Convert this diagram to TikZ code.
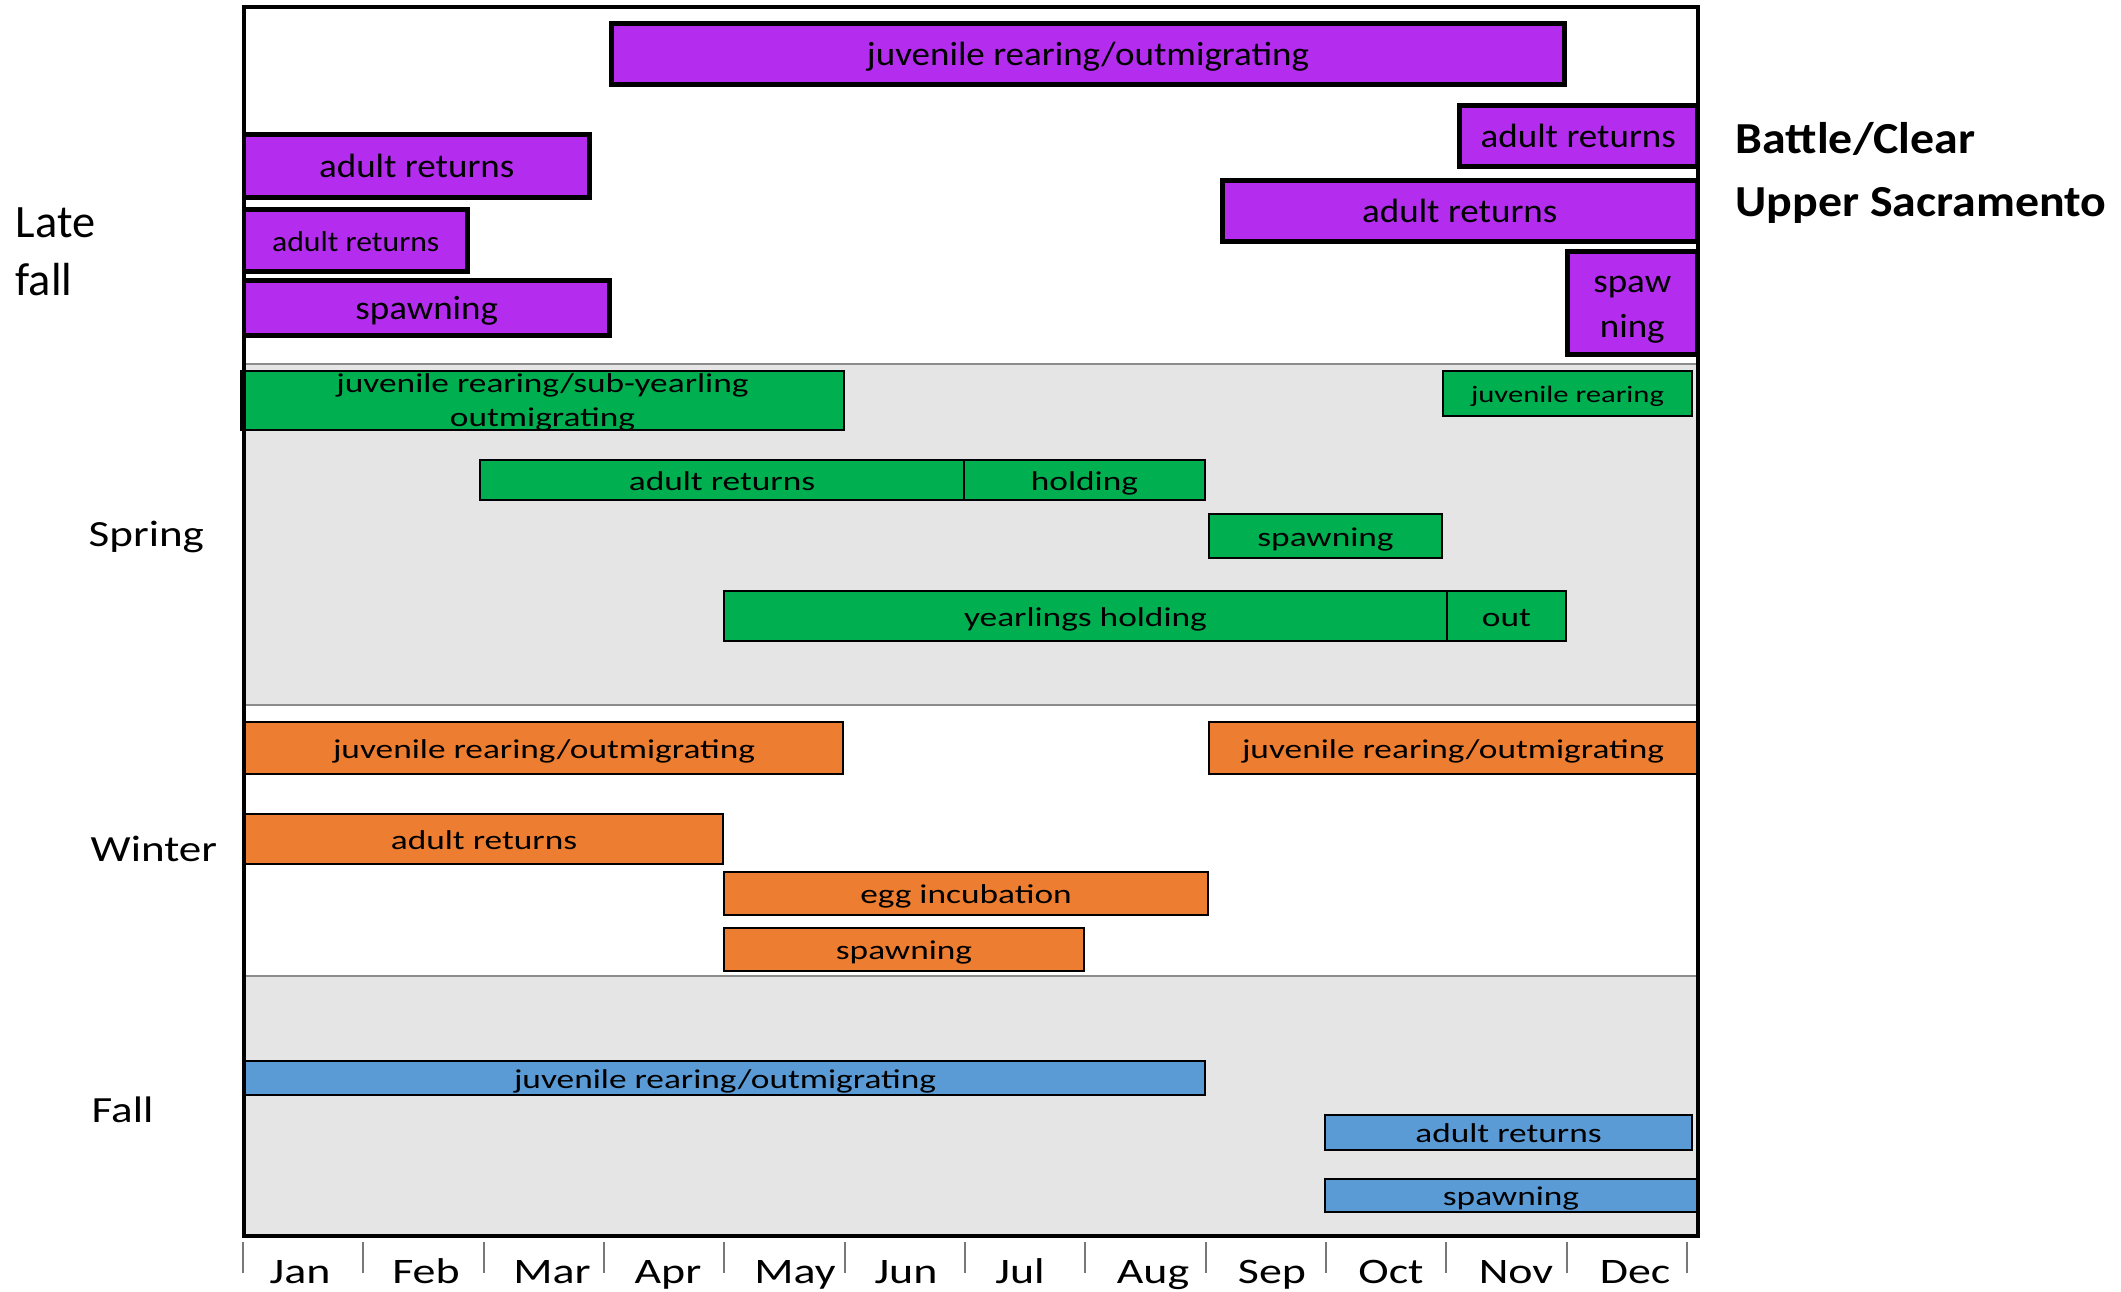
\documentclass[tikz,border=0pt]{standalone}
\usepackage{fontspec}
\setmainfont{Carlito}
% widened cuts of the same face for the different label groups
\newfontfamily\barfont[FakeStretch=1.3]{Carlito}
\newfontfamily\lffont[FakeStretch=1.1]{Carlito}
\newfontfamily\monthfont[FakeStretch=1.28]{Carlito}
\newfontfamily\runfont[FakeStretch=1.22]{Carlito}
\newfontfamily\riverfont[FakeStretch=1.08]{Carlito}

\definecolor{lfpurple}{RGB}{180,45,239}
\definecolor{spgreen}{RGB}{0,176,80}
\definecolor{wiorange}{RGB}{237,125,49}
\definecolor{fablue}{RGB}{91,155,213}
\definecolor{bandgray}{RGB}{229,229,229}
\definecolor{bandline}{RGB}{140,140,140}
\definecolor{tickgray}{RGB}{120,120,120}

% #1 style, #2 name, #3 x1, #4 y1, #5 x2, #6 y2, #7 text
\newcommand\ganttbar[7]{%
  \pgfmathsetmacro\gbw{(#5-#3)*0.01}%
  \pgfmathsetmacro\gbh{(#6-#4)*0.01}%
  \node[#1, minimum width=\gbw cm, minimum height=\gbh cm] (#2) at ({(#3+#5)/2},{(#4+#6)/2}) {#7};%
}

\begin{document}
\begin{tikzpicture}[x=0.01cm, y=-0.01cm,
  bar/.style={rectangle, draw=black, line width=0.6pt, inner sep=0pt, outer sep=0pt},
  lfbar/.style={bar, fill=lfpurple, line width=1.35pt,
    font=\lffont\fontsize{9.57}{11}\selectfont, text height=6.8pt, text depth=0pt},
  lfsmall/.style={lfbar, font=\lffont\fontsize{8.2}{10}\selectfont, text height=6.5pt},
  thinbar/.style={bar, font=\barfont\fontsize{7.73}{9}\selectfont, text height=5.7pt, text depth=0pt},
  spbar/.style={thinbar, fill=spgreen},
  wibar/.style={thinbar, fill=wiorange},
  fabar/.style={thinbar, fill=fablue},
  monthlabel/.style={font=\monthfont\fontsize{10.2}{12}\selectfont, inner sep=0pt, anchor=base},
  runlabel/.style={font=\runfont\fontsize{10.5}{12}\selectfont, inner sep=0pt, anchor=base west},
  riverlabel/.style={font=\riverfont\bfseries\fontsize{12.6}{15}\selectfont, inner sep=0pt, anchor=base west},
  tickmark/.style={draw=tickgray, line width=0.5pt},
  bandrule/.style={draw=bandline, line width=0.6pt}
]
\useasboundingbox (0,0) rectangle (2121,1292);
\fill[white] (0,0) rectangle (2121,1292);

% run bands
\fill[bandgray] (244,364) rectangle (1698,705);
\fill[bandgray] (244,976) rectangle (1698,1236);
\path[bandrule] (244,364) -- (1698,364);
\path[bandrule] (244,705) -- (1698,705);
\path[bandrule] (244,976) -- (1698,976);

% late fall
\ganttbar{lfbar}{lfjuv}{611.5}{23.5}{1564.5}{84.5}{juvenile rearing/outmigrating}
\ganttbar{lfbar}{bcadult}{1459.5}{105.5}{1697}{166.5}{adult returns}
\ganttbar{lfbar}{usadult}{1222.5}{180.5}{1697}{241.5}{adult returns}
\ganttbar{lfbar, align=center, text height=19.6pt, text depth=0pt,
  font=\lffont\fontsize{9.57}{12.8}\selectfont}{usspawn}{1567.5}{251.5}{1697}{354.5}{spaw\\ning}
\ganttbar{lfbar}{bcadultb}{244}{134.5}{589.5}{197.5}{adult returns}
\ganttbar{lfsmall}{usadultb}{244}{209.5}{467.5}{271.5}{adult returns}
\ganttbar{lfbar}{lfspawn}{244}{280.5}{609.5}{335.5}{spawning}

% spring
\ganttbar{spbar, align=center, text height=15.4pt, text depth=0.85pt,
  font=\barfont\fontsize{7.73}{9.67}\selectfont}{spjuv}{241}{371}{844}{430}{juvenile rearing/sub-yearling\\outmigrating}
\ganttbar{spbar}{spadult}{480}{460}{964}{500}{adult returns}
\ganttbar{spbar}{sphold}{964}{460}{1205}{500}{holding}
\ganttbar{spbar}{spspawn}{1209}{514}{1442}{558}{spawning}
\ganttbar{spbar}{spyear}{724}{591}{1447}{641}{yearlings holding}
\ganttbar{spbar}{spout}{1447}{591}{1566}{641}{out}
\ganttbar{spbar, font=\barfont\fontsize{6.7}{8}\selectfont, text height=5.4pt}{spjuvb}{1443}{371}{1692}{416}{juvenile rearing}

% winter
\ganttbar{wibar}{wijuv}{245}{722}{843}{774}{juvenile rearing/outmigrating}
\ganttbar{wibar}{wijuvb}{1209}{722}{1697}{774}{juvenile rearing/outmigrating}
\ganttbar{wibar}{wiadult}{245}{814}{723}{864}{adult returns}
\ganttbar{wibar}{wiegg}{724}{872}{1208}{915}{egg incubation}
\ganttbar{wibar}{wispawn}{724}{928}{1084}{971}{spawning}

% fall
\ganttbar{fabar}{fajuv}{245}{1061}{1205}{1095}{juvenile rearing/outmigrating}
\ganttbar{fabar}{faadult}{1325}{1115}{1692}{1150}{adult returns}
\ganttbar{fabar}{faspawn}{1325}{1179}{1697}{1212}{spawning}

% chart frame
\draw[line width=1.3pt] (244,7) rectangle (1698,1236);

% month axis
\foreach \i in {0,...,12}
  \draw[tickmark] ({243+\i*120.33},1242) -- ({243+\i*120.33},1273);
\foreach \m/\mx [count=\i from 0] in {Jan/300,Feb/426,Mar/552,Apr/668,May/795,Jun/906,
    Jul/1020,Aug/1153,Sep/1272,Oct/1391,Nov/1516,Dec/1635}
  \node[monthlabel] (month\i) at (\mx,1283) {\m};

% run labels
\node[font=\fontsize{13.2}{16.5}\selectfont, inner sep=0pt, align=left, anchor=west] (latefall) at (15,252) {Late\\fall};
\node[runlabel] (spring) at (88,547) {Spring};
\node[runlabel] (winter) at (90,862) {Winter};
\node[runlabel] (fall) at (91,1122) {Fall};

% river labels
\node[riverlabel] (battle) at (1735,154) {Battle/Clear};
\node[riverlabel] (uppersac) at (1735,217) {Upper Sacramento};
\end{tikzpicture}
\end{document}
